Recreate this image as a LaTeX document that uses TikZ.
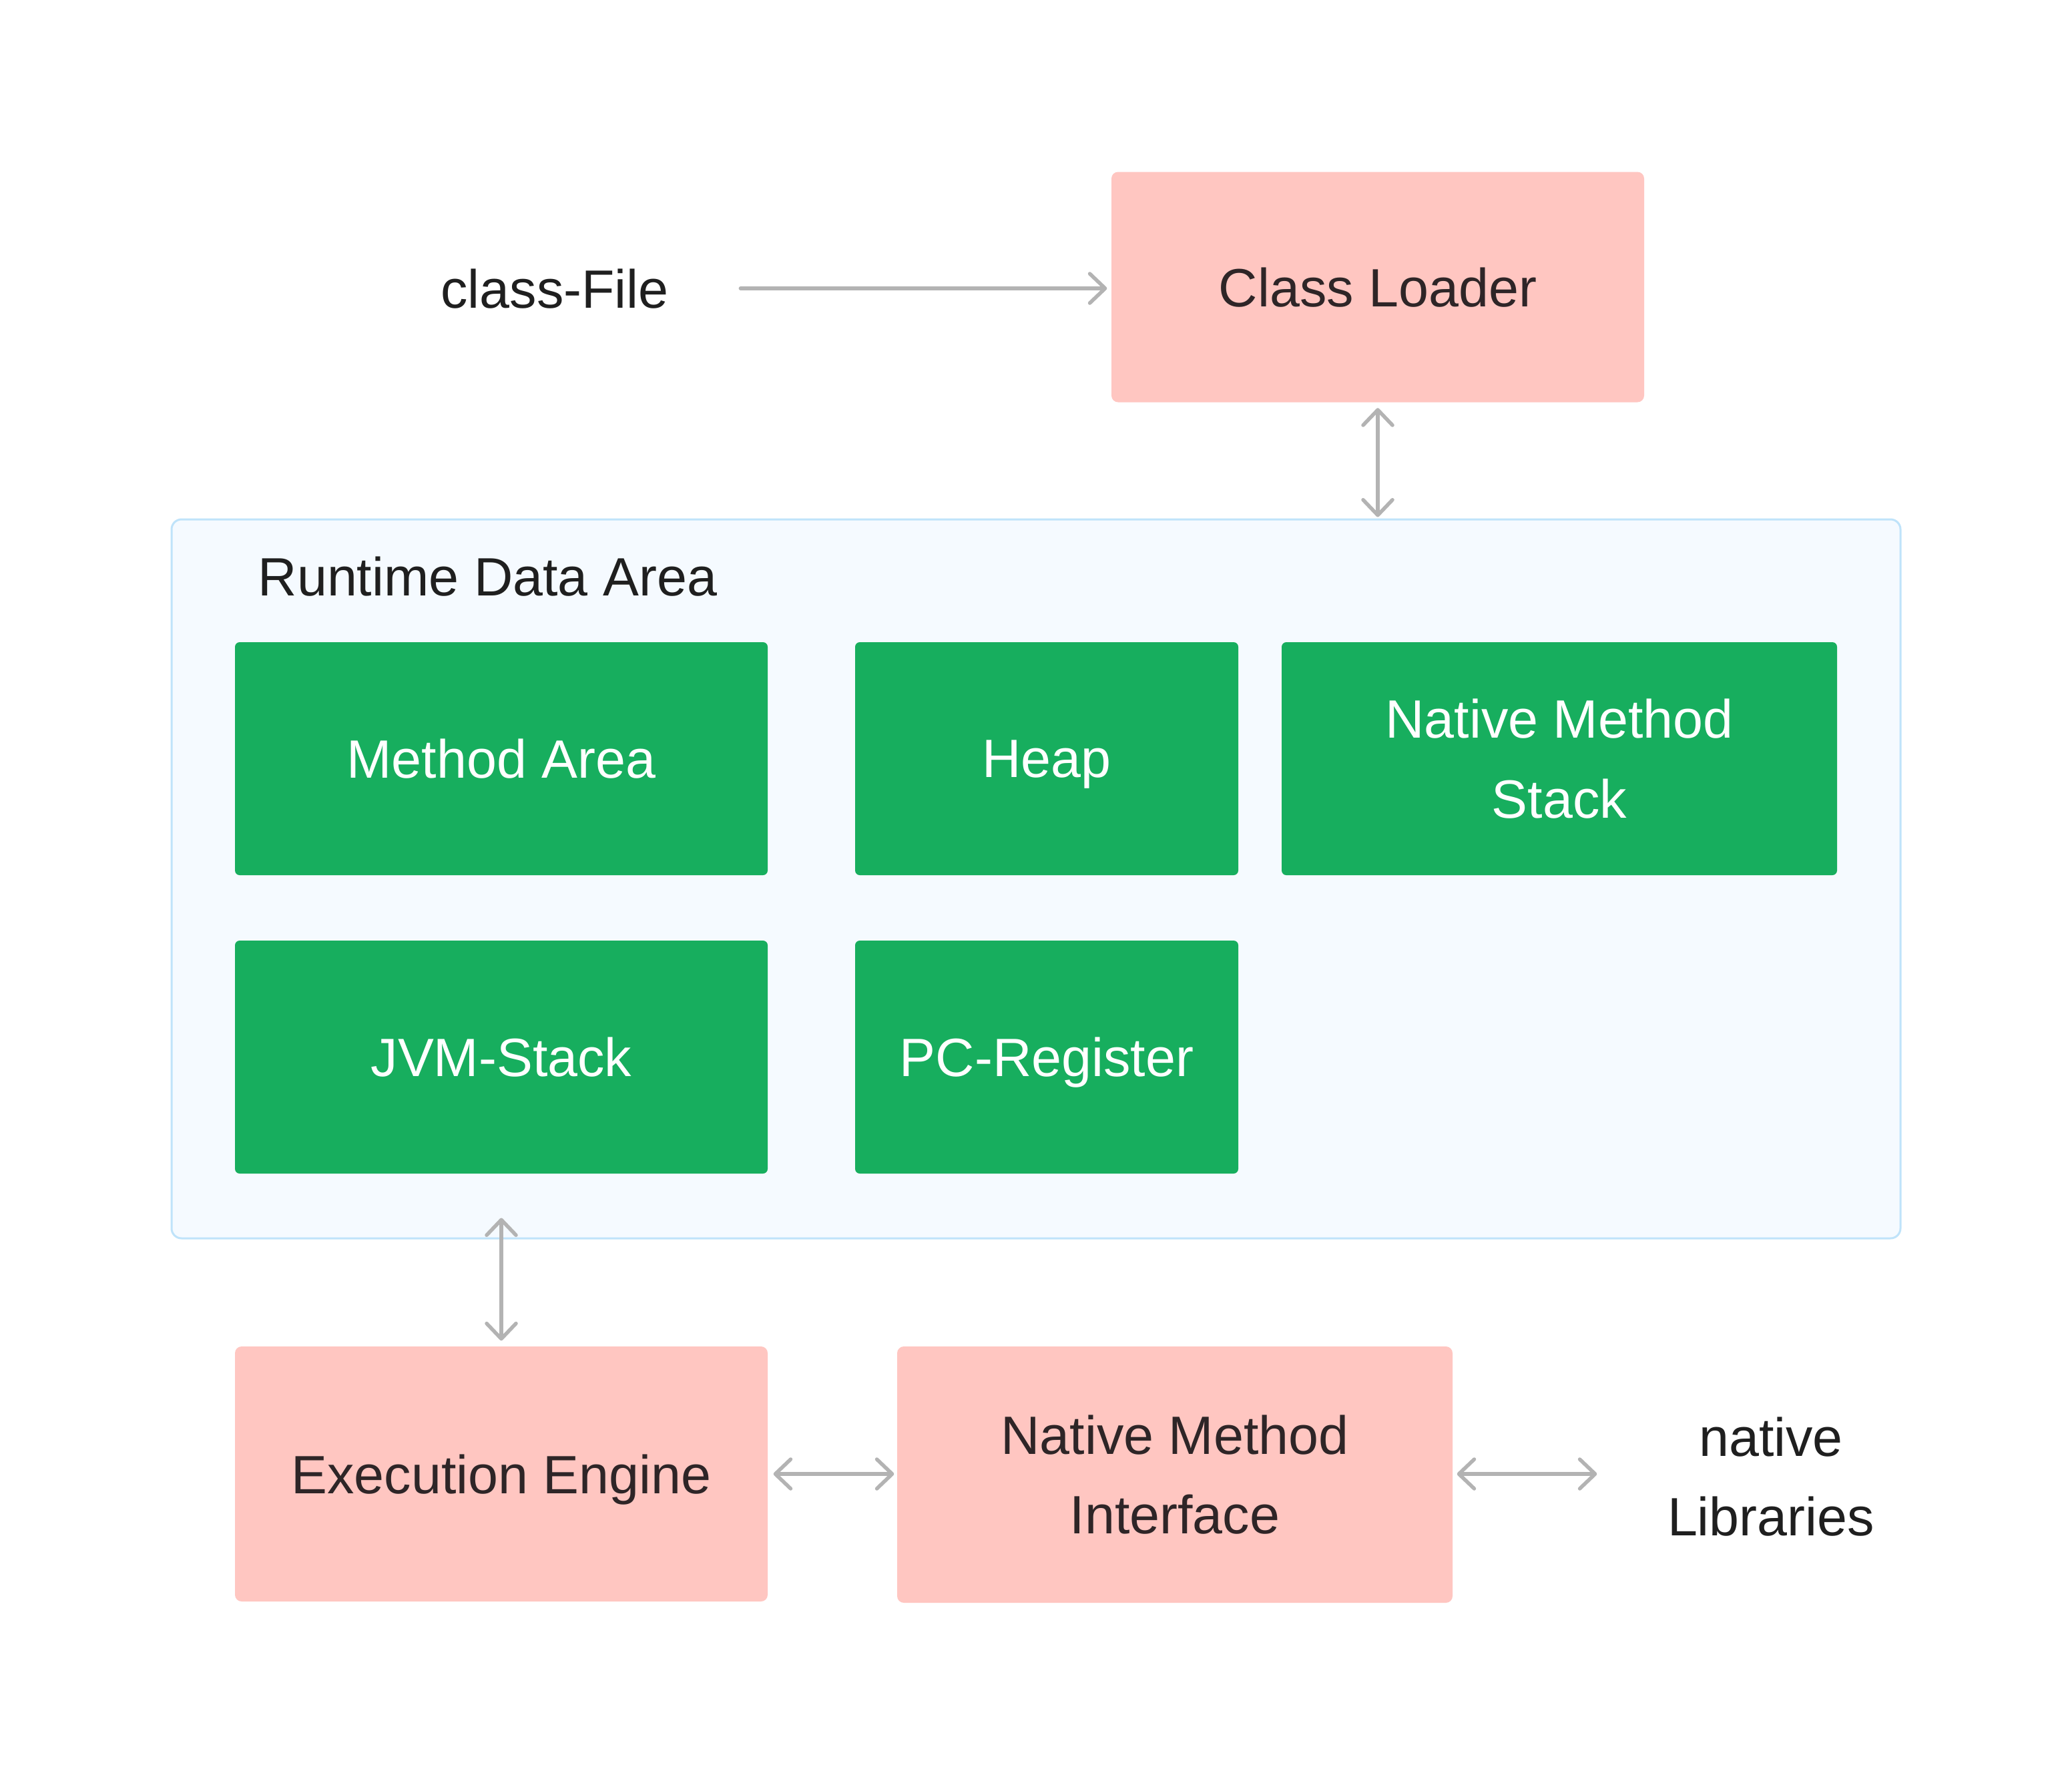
\documentclass[tikz,border=0pt]{standalone}
\usepackage{fontspec}
\setmainfont{Liberation Sans}
\usetikzlibrary{arrows.meta,calc}
\definecolor{pinkbox}{HTML}{FFC6C1}
\definecolor{greenbox}{HTML}{17AE5E}
\definecolor{areafill}{HTML}{F5FAFF}
\definecolor{areadraw}{HTML}{BFE3FA}
\definecolor{arrowgray}{HTML}{B3B3B3}
\definecolor{darktext}{HTML}{1F1F1F}
\definecolor{pinktext}{HTML}{2E2527}
\tikzset{
  every node/.style={font=\fontsize{23pt}{34pt}\selectfont, inner sep=0pt, align=center},
  pinknode/.style={fill=pinkbox, text=pinktext, rounded corners=0.1cm, minimum width=7.98cm, minimum height=3.45cm},
  greennode/.style={fill=greenbox, text=white, rounded corners=0.07cm, minimum height=3.49cm},
  oneline/.style={align=none, text depth=0pt},
  plaintext/.style={text=darktext},
  chev/.tip={Straight Barb[length=0.23cm,width=0.44cm,line cap=round,line join=round]},
  conn/.style={draw=arrowgray, line width=0.055cm, line cap=round},
}
\begin{document}
\begin{tikzpicture}
\useasboundingbox[fill=white] (0,0) rectangle (31.04,-26.58);
% container
\node[draw=areadraw, fill=areafill, line width=0.03cm, rounded corners=0.15cm,
  minimum width=25.90cm, minimum height=10.77cm] (rda) at (15.52,-13.165) {};
\node[plaintext, anchor=base west] (rdatitle) at (3.86,-8.92) {Runtime Data Area};
% top
\node[plaintext, oneline] (classFile) at (8.31,-4.32) {class-File};
\node[pinknode, oneline] (CL) at (20.64,-4.30) {Class Loader};
% green boxes
\node[greennode, oneline, minimum width=7.98cm] (MA) at (7.51,-11.365) {Method Area};
\node[greennode, oneline, minimum width=5.74cm] (HP) at (15.68,-11.365) {Heap};
\node[greennode, minimum width=8.32cm] (NMS) at (23.36,-11.365) {Native Method\\Stack};
\node[greennode, oneline, minimum width=7.98cm] (JVM) at (7.51,-15.835) {JVM-Stack};
\node[greennode, oneline, minimum width=5.74cm] (PC) at (15.68,-15.835) {PC-Register};
% bottom
\node[pinknode, oneline, minimum height=3.82cm] (EE) at (7.51,-22.08) {Execution Engine};
\node[pinknode, minimum width=8.32cm, minimum height=3.84cm] (NMI) at (17.60,-22.09) {Native Method\\Interface};
\node[plaintext] (natLib) at (26.53,-22.12) {native\\Libraries};
% connectors
\draw[conn, -{chev}, shorten <=1.07cm, shorten >=0.06cm] (classFile.east) -- (CL.west |- classFile.east);
\draw[conn, {chev}-{chev}, shorten <=0.08cm, shorten >=0.02cm] (CL.south) -- (CL.south |- rda.north);
\draw[conn, {chev}-{chev}, shorten >=0.08cm] ([yshift=0.32cm]rda.south -| EE.north) -- (EE.north);
\draw[conn, {chev}-{chev}, shorten <=0.08cm, shorten >=0.04cm] (EE.east) -- (NMI.west |- EE.east);
\draw[conn, {chev}-{chev}, shorten <=0.06cm, shorten >=1.05cm] (NMI.east |- EE.east) -- (natLib.west |- EE.east);
\end{tikzpicture}
\end{document}
